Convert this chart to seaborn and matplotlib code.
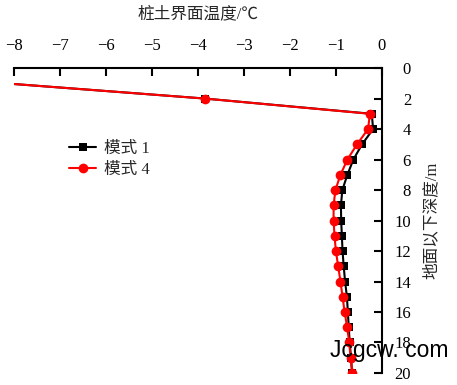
import numpy as np
import pandas as pd
import seaborn as sns
import matplotlib
matplotlib.use('Agg')
import matplotlib.pyplot as plt

# depth below ground (m) and pile-soil interface temperature (deg C)
depth = [1, 2, 3, 4, 5, 6, 7, 8, 9, 10, 11, 12, 13, 14, 15, 16, 17, 18, 19, 20]
mode1 = [-8.2, -3.85, -0.22, -0.19, -0.43, -0.62, -0.75, -0.86, -0.89, -0.885,
         -0.87, -0.855, -0.83, -0.80, -0.76, -0.74, -0.72, -0.70, -0.67, -0.65]
mode4 = [-8.2, -3.85, -0.26, -0.30, -0.54, -0.75, -0.90, -1.01, -1.05, -1.05,
         -1.03, -1.00, -0.95, -0.90, -0.855, -0.81, -0.755, -0.71, -0.68, -0.64]
labels = ['模式 1', '模式 4']
xticks = [-8, -7, -6, -5, -4, -3, -2, -1, 0]
yticks = [0, 2, 4, 6, 8, 10, 12, 14, 16, 18, 20]

sns.set_style('white')
fonts = ['Liberation Serif', 'Noto Sans CJK SC']
plt.rcParams['font.family'] = fonts
plt.rcParams['axes.unicode_minus'] = True

df1 = pd.DataFrame({'depth': depth, 'temp': mode1})
df4 = pd.DataFrame({'depth': depth, 'temp': mode4})

fig = plt.figure(figsize=(4.57, 3.85), dpi=100)
ax = fig.add_axes([0.0306, 0.0312, 0.805, 0.792])

sns.lineplot(data=df1, x='temp', y='depth', orient='y', sort=False, ax=ax,
             color='black', marker='s', markersize=5.5, markeredgewidth=0,
             linewidth=1.5, label=labels[0])
sns.lineplot(data=df4, x='temp', y='depth', orient='y', sort=False, ax=ax,
             color='#ff0000', marker='o', markersize=7, markeredgewidth=0,
             linewidth=1.5, label=labels[1])

ax.set_xlim(-8, 0)
ax.set_ylim(20, 0)
ax.set_xticks(xticks)
ax.set_yticks(yticks)

for s in ['left', 'bottom']:
    ax.spines[s].set_visible(False)
for s in ['top', 'right']:
    ax.spines[s].set_color('black')
    ax.spines[s].set_linewidth(1.5)

ax.xaxis.tick_top()
ax.xaxis.set_label_position('top')
ax.yaxis.tick_right()
ax.yaxis.set_label_position('right')
ax.tick_params(axis='x', direction='in', length=6, width=1.5, pad=10,
               labelsize=12, colors='black')
ax.tick_params(axis='y', direction='in', length=6, width=1.5, pad=21,
               labelsize=12, colors='black')
for t in ax.get_yticklabels():
    t.set_horizontalalignment('right')

ax.set_xlabel('桩土界面温度/℃', fontsize=12, labelpad=14)
ax.set_ylabel('地面以下深度/m', fontsize=12, labelpad=9, rotation=90)

ax.legend(loc='center left', bbox_to_anchor=(0.11, 0.70), frameon=False,
          fontsize=12, handlelength=1.6, handletextpad=0.5, labelspacing=0.3)

# watermark text as in the source image
fig.text(0.722, 0.073, 'Jcgcw. com', fontsize=16.5, family='Liberation Sans',
         color='black')

fig.savefig('out.png', dpi=100)
